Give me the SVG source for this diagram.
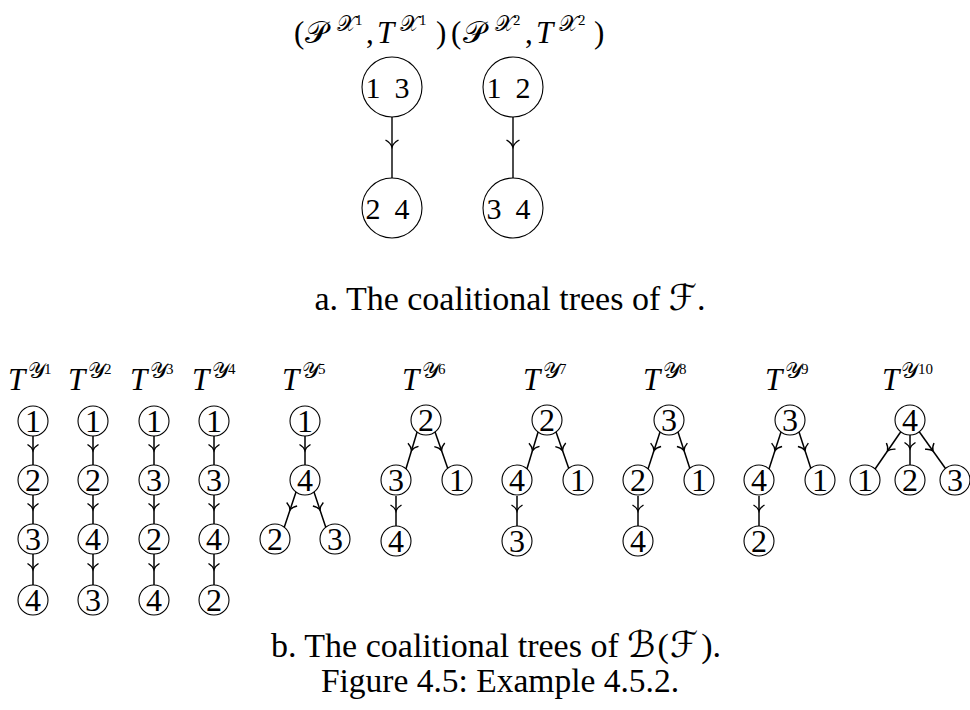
<svg xmlns="http://www.w3.org/2000/svg" width="970" height="710" viewBox="0 0 970 710">
<defs>
<style>
.t{font-family:"Liberation Serif","DejaVu Serif","DejaVu Sans",serif;fill:#000}
.cap{font-size:34px;text-anchor:middle}
.n{font-size:32px;text-anchor:middle}
.nb{font-size:30px;text-anchor:middle}
.c{fill:#fff;stroke:#000;stroke-width:1.1}
.e{fill:none;stroke:#000;stroke-width:1.5;marker-mid:url(#ar)}
.eb{fill:none;stroke:#000;stroke-width:1.4;marker-mid:url(#arb)}
.lab{font-size:31px}
.it{font-style:italic}
.s1{font-size:22px}
.s2{font-size:15px}
</style>
<marker id="ar" markerUnits="userSpaceOnUse" viewBox="-8 -7 10 14" markerWidth="10" markerHeight="14" refX="0" refY="0" orient="auto" overflow="visible">
<path d="M-6,-5.5 C-4,-2.2 -1.2,-0.4 0,0 C-1.2,0.4 -4,2.2 -6,5.5" fill="none" stroke="#000" stroke-width="1.4"/>
</marker>
<marker id="arb" markerUnits="userSpaceOnUse" viewBox="-9 -8 11 16" markerWidth="11" markerHeight="16" refX="0" refY="0" orient="auto" overflow="visible">
<path d="M-7,-6.5 C-5,-3 -1.5,-0.5 0,0 C-1.5,0.5 -5,3 -7,6.5" fill="none" stroke="#000" stroke-width="1.4"/>
</marker>
</defs>
<rect width="970" height="710" fill="#fff"/>

<text class="t" font-size="31"><tspan x="294" y="43">(</tspan><tspan x="305" y="43">𝒫</tspan><tspan class="s1" x="337" y="31">𝒳</tspan><tspan class="s2" x="355" y="25">1</tspan><tspan x="366" y="43">,</tspan><tspan class="it" x="377" y="43">T</tspan><tspan class="s1" x="400" y="31">𝒳</tspan><tspan class="s2" x="419" y="25">1</tspan><tspan x="436" y="43">)</tspan><tspan x="451" y="43">(</tspan><tspan x="463" y="43">𝒫</tspan><tspan class="s1" x="495" y="31">𝒳</tspan><tspan class="s2" x="513" y="25">2</tspan><tspan x="525" y="43">,</tspan><tspan class="it" x="536" y="43">T</tspan><tspan class="s1" x="559" y="31">𝒳</tspan><tspan class="s2" x="578" y="25">2</tspan><tspan x="594" y="43">)</tspan></text>

<g id="connectors">
<path class="eb" d="M392,117 L392,147 L392,178"/>
<path class="eb" d="M513,117 L513,147 L513,178"/>
<path class="e" d="M33,436 L33,450.5 L33,465"/>
<path class="e" d="M33,495 L33,509.5 L33,524"/>
<path class="e" d="M33,554 L33,569.5 L33,585"/>
<path class="e" d="M93,436 L93,450.5 L93,465"/>
<path class="e" d="M93,495 L93,509.5 L93,524"/>
<path class="e" d="M93,554 L93,569.5 L93,585"/>
<path class="e" d="M154,436 L154,450.5 L154,465"/>
<path class="e" d="M154,495 L154,509.5 L154,524"/>
<path class="e" d="M154,554 L154,569.5 L154,585"/>
<path class="e" d="M214,436 L214,450.5 L214,465"/>
<path class="e" d="M214,495 L214,509.5 L214,524"/>
<path class="e" d="M214,554 L214,569.5 L214,585"/>
<path class="e" d="M305,436 L305,450.5 L305,465"/>
<path class="e" d="M297,489 L290,510 L283,531"/>
<path class="e" d="M313,489 L320,510 L327,531"/>
<path class="e" d="M418,429 L411.5,450.5 L405,472"/>
<path class="e" d="M434,429 L441.5,450.5 L449,472"/>
<path class="e" d="M396,496 L396,511 L396,526"/>
<path class="e" d="M539,429 L532.5,450.5 L526,472"/>
<path class="e" d="M555,429 L562.5,450.5 L570,472"/>
<path class="e" d="M517,496 L517,511 L517,526"/>
<path class="e" d="M661,429 L654,450.5 L647,472"/>
<path class="e" d="M677,429 L684,450.5 L691,472"/>
<path class="e" d="M638,496 L638,511 L638,526"/>
<path class="e" d="M782,429 L775,450.5 L768,472"/>
<path class="e" d="M798,429 L805,450.5 L812,472"/>
<path class="e" d="M759,496 L759,511 L759,526"/>
<path class="e" d="M902,430 L887.5,451 L873,472"/>
<path class="e" d="M910,432 L910,448.5 L910,465"/>
<path class="e" d="M918,430 L933,451 L948,472"/>
</g>

<g id="x1-13"><circle class="c" cx="392" cy="87" r="30"/><text class="t nb"><tspan x="373" y="98">1</tspan><tspan x="402" y="98">3</tspan></text></g>
<g id="x1-24"><circle class="c" cx="392" cy="208" r="30"/><text class="t nb"><tspan x="373" y="219">2</tspan><tspan x="402" y="219">4</tspan></text></g>
<g id="x2-12"><circle class="c" cx="513" cy="87" r="30"/><text class="t nb"><tspan x="494" y="98">1</tspan><tspan x="523" y="98">2</tspan></text></g>
<g id="x2-34"><circle class="c" cx="513" cy="208" r="30"/><text class="t nb"><tspan x="494" y="219">3</tspan><tspan x="523" y="219">4</tspan></text></g>

<text class="t cap" x="510" y="310">a. The coalitional trees of <tspan font-size="36">ℱ</tspan>.</text>

<g id="labels">
<text class="t lab"><tspan class="it" x="8" y="390">T</tspan><tspan class="s1" x="28" y="378">𝒴</tspan><tspan class="s2" x="44" y="374">1</tspan></text>
<text class="t lab"><tspan class="it" x="68" y="390">T</tspan><tspan class="s1" x="88" y="378">𝒴</tspan><tspan class="s2" x="104" y="374">2</tspan></text>
<text class="t lab"><tspan class="it" x="130" y="390">T</tspan><tspan class="s1" x="150" y="378">𝒴</tspan><tspan class="s2" x="166" y="374">3</tspan></text>
<text class="t lab"><tspan class="it" x="192" y="390">T</tspan><tspan class="s1" x="212" y="378">𝒴</tspan><tspan class="s2" x="228" y="374">4</tspan></text>
<text class="t lab"><tspan class="it" x="282" y="390">T</tspan><tspan class="s1" x="302" y="378">𝒴</tspan><tspan class="s2" x="318" y="374">5</tspan></text>
<text class="t lab"><tspan class="it" x="402" y="390">T</tspan><tspan class="s1" x="422" y="378">𝒴</tspan><tspan class="s2" x="438" y="374">6</tspan></text>
<text class="t lab"><tspan class="it" x="523" y="390">T</tspan><tspan class="s1" x="543" y="378">𝒴</tspan><tspan class="s2" x="559" y="374">7</tspan></text>
<text class="t lab"><tspan class="it" x="643" y="390">T</tspan><tspan class="s1" x="663" y="378">𝒴</tspan><tspan class="s2" x="679" y="374">8</tspan></text>
<text class="t lab"><tspan class="it" x="765" y="390">T</tspan><tspan class="s1" x="785" y="378">𝒴</tspan><tspan class="s2" x="801" y="374">9</tspan></text>
<text class="t lab"><tspan class="it" x="882" y="390">T</tspan><tspan class="s1" x="901" y="378">𝒴</tspan><tspan class="s2" x="918" y="374">10</tspan></text>
</g>

<g id="y1-1"><circle class="c" cx="33" cy="421" r="15"/><text class="t n" x="33" y="432">1</text></g>
<g id="y1-2"><circle class="c" cx="33" cy="480" r="15"/><text class="t n" x="33" y="491">2</text></g>
<g id="y1-3"><circle class="c" cx="33" cy="539" r="15"/><text class="t n" x="33" y="550">3</text></g>
<g id="y1-4"><circle class="c" cx="33" cy="600" r="15"/><text class="t n" x="33" y="611">4</text></g>

<g id="y2-1"><circle class="c" cx="93" cy="421" r="15"/><text class="t n" x="93" y="432">1</text></g>
<g id="y2-2"><circle class="c" cx="93" cy="480" r="15"/><text class="t n" x="93" y="491">2</text></g>
<g id="y2-4"><circle class="c" cx="93" cy="539" r="15"/><text class="t n" x="93" y="550">4</text></g>
<g id="y2-3"><circle class="c" cx="93" cy="600" r="15"/><text class="t n" x="93" y="611">3</text></g>

<g id="y3-1"><circle class="c" cx="154" cy="421" r="15"/><text class="t n" x="154" y="432">1</text></g>
<g id="y3-3"><circle class="c" cx="154" cy="480" r="15"/><text class="t n" x="154" y="491">3</text></g>
<g id="y3-2"><circle class="c" cx="154" cy="539" r="15"/><text class="t n" x="154" y="550">2</text></g>
<g id="y3-4"><circle class="c" cx="154" cy="600" r="15"/><text class="t n" x="154" y="611">4</text></g>

<g id="y4-1"><circle class="c" cx="214" cy="421" r="15"/><text class="t n" x="214" y="432">1</text></g>
<g id="y4-3"><circle class="c" cx="214" cy="480" r="15"/><text class="t n" x="214" y="491">3</text></g>
<g id="y4-4"><circle class="c" cx="214" cy="539" r="15"/><text class="t n" x="214" y="550">4</text></g>
<g id="y4-2"><circle class="c" cx="214" cy="600" r="15"/><text class="t n" x="214" y="611">2</text></g>

<g id="y5-1"><circle class="c" cx="305" cy="421" r="15"/><text class="t n" x="305" y="432">1</text></g>
<g id="y5-4"><circle class="c" cx="305" cy="480" r="15"/><text class="t n" x="305" y="491">4</text></g>
<g id="y5-2"><circle class="c" cx="275" cy="539" r="15"/><text class="t n" x="275" y="550">2</text></g>
<g id="y5-3"><circle class="c" cx="335" cy="539" r="15"/><text class="t n" x="335" y="550">3</text></g>

<g id="y6-2"><circle class="c" cx="426" cy="420" r="15"/><text class="t n" x="426" y="431">2</text></g>
<g id="y6-3"><circle class="c" cx="396" cy="480" r="15"/><text class="t n" x="396" y="491">3</text></g>
<g id="y6-1"><circle class="c" cx="457" cy="480" r="15"/><text class="t n" x="457" y="491">1</text></g>
<g id="y6-4"><circle class="c" cx="396" cy="541" r="15"/><text class="t n" x="396" y="552">4</text></g>

<g id="y7-2"><circle class="c" cx="547" cy="420" r="15"/><text class="t n" x="547" y="431">2</text></g>
<g id="y7-4"><circle class="c" cx="517" cy="480" r="15"/><text class="t n" x="517" y="491">4</text></g>
<g id="y7-1"><circle class="c" cx="578" cy="480" r="15"/><text class="t n" x="578" y="491">1</text></g>
<g id="y7-3"><circle class="c" cx="517" cy="541" r="15"/><text class="t n" x="517" y="552">3</text></g>

<g id="y8-3"><circle class="c" cx="669" cy="420" r="15"/><text class="t n" x="669" y="431">3</text></g>
<g id="y8-2"><circle class="c" cx="638" cy="480" r="15"/><text class="t n" x="638" y="491">2</text></g>
<g id="y8-1"><circle class="c" cx="699" cy="480" r="15"/><text class="t n" x="699" y="491">1</text></g>
<g id="y8-4"><circle class="c" cx="638" cy="541" r="15"/><text class="t n" x="638" y="552">4</text></g>

<g id="y9-3"><circle class="c" cx="790" cy="420" r="15"/><text class="t n" x="790" y="431">3</text></g>
<g id="y9-4"><circle class="c" cx="759" cy="480" r="15"/><text class="t n" x="759" y="491">4</text></g>
<g id="y9-1"><circle class="c" cx="820" cy="480" r="15"/><text class="t n" x="820" y="491">1</text></g>
<g id="y9-2"><circle class="c" cx="759" cy="541" r="15"/><text class="t n" x="759" y="552">2</text></g>

<g id="y10-4"><circle class="c" cx="910" cy="420" r="15"/><text class="t n" x="910" y="431">4</text></g>
<g id="y10-1"><circle class="c" cx="865" cy="480" r="15"/><text class="t n" x="865" y="491">1</text></g>
<g id="y10-2"><circle class="c" cx="910" cy="480" r="15"/><text class="t n" x="910" y="491">2</text></g>
<g id="y10-3"><circle class="c" cx="955" cy="480" r="15"/><text class="t n" x="955" y="491">3</text></g>

<text class="t cap" x="496" y="657">b. The coalitional trees of <tspan font-size="36">ℬ</tspan><tspan dx="2">(</tspan><tspan dx="1" font-size="36">ℱ</tspan><tspan dx="3">).</tspan></text>
<text class="t cap" x="500" y="692" style="font-size:33.5px">Figure 4.5: Example 4.5.2.</text>
</svg>
